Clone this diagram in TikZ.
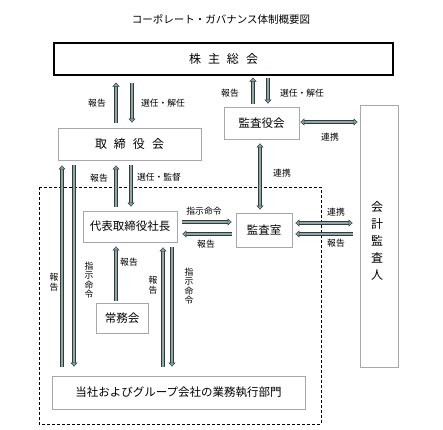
\documentclass[tikz,border=0pt]{standalone}
\usepackage{fontspec}
\setmainfont{Noto Sans CJK JP}
\usetikzlibrary{arrows.meta}
\definecolor{arrline}{HTML}{2E3C3C}
\definecolor{arrfill}{HTML}{92A6A6}
\definecolor{boxgrey}{HTML}{A8A8A8}
\begin{document}
\begin{tikzpicture}[x=1pt,y=-1pt,
  box/.style={draw=boxgrey, line width=0.8pt, inner sep=0pt, font=\fontsize{11.5}{13}\selectfont},
  lbl/.style={inner sep=0pt, font=\fontsize{8.8}{9.4}\selectfont, align=center},
  tipx/.tip={Triangle[length=4pt, width=7pt, fill=arrfill, line width=0.5pt]},
  arr/.style={draw=arrline, line width=0.5pt, double=arrfill, double distance=2.2pt, -tipx},
  arrb/.style={draw=arrline, line width=0.5pt, double=arrfill, double distance=2.2pt, tipx-tipx}]
\useasboundingbox (0,0) rectangle (443,429);
% title
\node[inner sep=0pt, font=\fontsize{10.5}{12}\selectfont] (title) at (221,19) {コーポレート・ガバナンス体制概要図};
% boxes
\node[box, draw=black, line width=1.1pt, minimum width=339pt, minimum height=32pt, font=\fontsize{12}{13}\selectfont] (kabu) at (223.5,59) {株\hspace{7pt}主\hspace{7pt}総\hspace{7pt}会};
\node[box, minimum width=143pt, minimum height=32pt, font=\fontsize{12}{13}\selectfont] (tori) at (129.5,144) {取\hspace{7pt}締\hspace{7pt}役\hspace{7pt}会};
\node[box, minimum width=75pt, minimum height=32pt] (kansayaku) at (261.5,123) {監査役会};
\node[box, minimum width=38pt, minimum height=262pt] (kaikei) at (379,236) {};
\node[inner sep=0pt, align=center, font=\fontsize{12}{17}\selectfont] (kaikeitxt) at (377,240.5) {会\\計\\監\\査\\人};
\node[box, minimum width=94pt, minimum height=31pt] (daihyo) at (130,226.5) {代表取締役社長};
\node[box, minimum width=56pt, minimum height=34pt] (kansa) at (264,230) {監査室};
\node[box, minimum width=52pt, minimum height=30pt] (jomu) at (122,318) {常務会};
\node[box, minimum width=253pt, minimum height=33pt] (gyomu) at (178.5,392.5) {当社およびグループ会社の業務執行部門};
\draw[line width=0.8pt, dash pattern=on 3pt off 2pt] (39,187) rectangle (321,424);
% x / y reference coordinates
\coordinate (xa) at (116,0);
\coordinate (xb) at (132,0);
\coordinate (xc) at (253,0);
\coordinate (xd) at (268,0);
\coordinate (xe) at (260,0);
\coordinate (xf) at (116,0);
\coordinate (xg) at (131,0);
\coordinate (xl1) at (62,0);
\coordinate (xl2) at (74,0);
\coordinate (xr1) at (163,0);
\coordinate (xr2) at (172,0);
\coordinate (ya) at (0,122);
\coordinate (yb) at (0,222);
\coordinate (yc) at (0,234);
\coordinate (yd) at (0,223);
% kabu <-> tori
\draw[arr] ([yshift=5pt]tori.north -| xa) -- ([yshift=-7pt]kabu.south -| xa);
\draw[arr] ([yshift=-7pt]kabu.south -| xb) -- ([yshift=5pt]tori.north -| xb);
\node[lbl] (l1) at (97,103) {報告};
\node[lbl] (l2) at (163,103) {選任・解任};
% kabu <-> kansayaku
\draw[arr] ([yshift=3pt]kansayaku.north -| xc) -- ([yshift=-2pt]kabu.south -| xc);
\draw[arr] ([yshift=-2pt]kabu.south -| xd) -- ([yshift=3pt]kansayaku.north -| xd);
\node[lbl] (l3) at (230,93) {報告};
\node[lbl] (l4) at (302,93) {選任・解任};
% kansayaku <-> kaikei
\draw[arrb] ([xshift=1pt]kansayaku.east |- ya) -- ([xshift=-2pt]kaikei.west |- ya);
\node[lbl] (l5) at (330,137) {連携};
% kansayaku <-> kansa
\draw[arrb] ([yshift=-4pt]kansayaku.south -| xe) -- ([yshift=3pt]kansa.north -| xe);
\node[lbl] (l6) at (282,173) {連携};
% tori <-> daihyo
\draw[arr] ([yshift=4pt]daihyo.north -| xf) -- ([yshift=-5pt]tori.south -| xf);
\draw[arr] ([yshift=-5pt]tori.south -| xg) -- ([yshift=4pt]daihyo.north -| xg);
\node[lbl] (l7) at (99,178) {報告};
\node[lbl] (l8) at (159,177) {選任・監督};
% daihyo <-> kansa
\draw[arr] ([xshift=5pt]daihyo.east |- yb) -- ([xshift=-4pt]kansa.west |- yb);
\draw[arr] ([xshift=-4pt]kansa.west |- yc) -- ([xshift=5pt]daihyo.east |- yc);
\node[lbl] (l9) at (204,211) {指示命令};
\node[lbl] (l10) at (206,244) {報告};
% kansa <-> kaikei
\draw[arrb] ([xshift=3pt]kansa.east |- yd) -- ([xshift=-7pt]kaikei.west |- yd);
\draw[arr] ([xshift=-7pt]kaikei.west |- yc) -- ([xshift=3pt]kansa.east |- yc);
\node[lbl] (l11) at (336,212) {連携};
\node[lbl] (l12) at (336,243) {報告};
% long left arrows tori <-> gyomu
\draw[arr] ([yshift=9pt]gyomu.north -| xl1) -- ([yshift=-5pt]tori.south -| xl1);
\draw[arr] ([yshift=-5pt]tori.south -| xl2) -- ([yshift=9pt]gyomu.north -| xl2);
\node[lbl] (l13) at (54,282) {報\\告};
\node[lbl] (l14) at (89,280) {指\\示\\命\\令};
% jomu -> daihyo
\draw[arr] ([yshift=2pt]jomu.north -| xa) -- ([yshift=-4pt]daihyo.south -| xa);
\node[lbl] (l15) at (129,262) {報告};
% daihyo <-> gyomu
\draw[arr] ([yshift=9pt]gyomu.north -| xr1) -- ([yshift=-5pt]daihyo.south -| xr1);
\draw[arr] ([yshift=-5pt]daihyo.south -| xr2) -- ([yshift=9pt]gyomu.north -| xr2);
\node[lbl] (l16) at (153,285) {報\\告};
\node[lbl] (l17) at (189,286) {指\\示\\命\\令};
\end{tikzpicture}
\end{document}
